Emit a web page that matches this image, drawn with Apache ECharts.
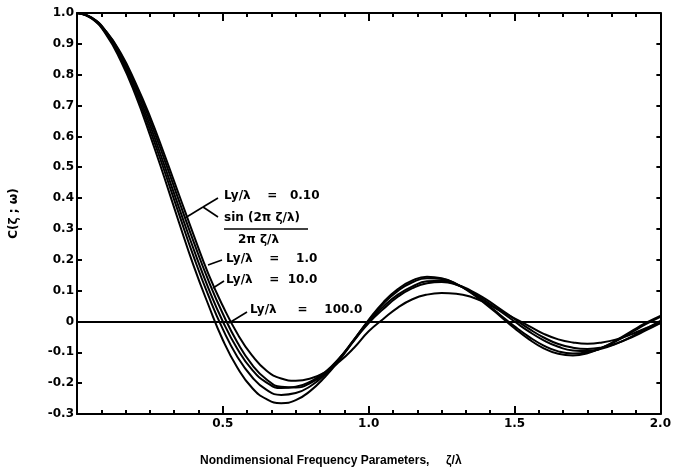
<!DOCTYPE html>
<html>
<head>
<meta charset="utf-8">
<script src="https://cdn.jsdelivr.net/npm/echarts@6/dist/echarts.min.js"></script>
<style>
  html, body { margin: 0; padding: 0; background: #fff; }
  #main { width: 674px; height: 475px; }
</style>
</head>
<body>
<div id="main"></div>
<script>
var xs = [0, 0.05, 0.1, 0.15, 0.2, 0.25, 0.3, 0.35, 0.4, 0.45,
          0.5, 0.55, 0.6, 0.65, 0.7, 0.75, 0.8, 0.85, 0.9, 0.95,
          1.0, 1.05, 1.1, 1.15, 1.2, 1.25, 1.3, 1.35, 1.4, 1.45,
          1.5, 1.55, 1.6, 1.65, 1.7, 1.75, 1.8, 1.85, 1.9, 1.95, 2.0];

// Ly/lambda = 0.10
var ly010 = [1, 0.985, 0.94, 0.866, 0.768, 0.652, 0.524, 0.39, 0.258, 0.134,
             0.025, -0.068, -0.14, -0.188, -0.212, -0.214, -0.2, -0.168, -0.12, -0.062,
             -0.005, 0.04, 0.08, 0.108, 0.124, 0.128, 0.12, 0.1, 0.073, 0.041,
             0.008, -0.024, -0.052, -0.073, -0.085, -0.089, -0.084, -0.071, -0.052, -0.029, -0.005];
// sin(2 pi z/l) / (2 pi z/l)
var sinc = [1, 0.984, 0.936, 0.858, 0.757, 0.637, 0.505, 0.368, 0.234, 0.109,
            0, -0.089, -0.156, -0.198, -0.216, -0.212, -0.195, -0.165, -0.118, -0.06,
            0, 0.048, 0.087, 0.114, 0.13, 0.132, 0.12, 0.097, 0.067, 0.034,
            0, -0.033, -0.061, -0.082, -0.094, -0.096, -0.088, -0.072, -0.05, -0.024, 0.002];
// Ly/lambda = 1.0
var ly1 = [1, 0.983, 0.933, 0.852, 0.746, 0.622, 0.487, 0.347, 0.21, 0.085,
           -0.025, -0.115, -0.18, -0.222, -0.238, -0.232, -0.21, -0.172, -0.12, -0.058,
           0.003, 0.057, 0.099, 0.127, 0.14, 0.138, 0.122, 0.095, 0.06, 0.022,
           -0.016, -0.05, -0.078, -0.097, -0.104, -0.1, -0.085, -0.063, -0.036, -0.009, 0.015];
// Ly/lambda = 10.0
var ly10 = [1, 0.982, 0.93, 0.845, 0.735, 0.605, 0.465, 0.32, 0.18, 0.055,
            -0.06, -0.15, -0.215, -0.252, -0.265, -0.255, -0.225, -0.18, -0.125, -0.06,
            0.005, 0.062, 0.105, 0.133, 0.145, 0.14, 0.122, 0.093, 0.057, 0.018,
            -0.022, -0.058, -0.087, -0.105, -0.11, -0.103, -0.085, -0.06, -0.032, -0.005, 0.018];
// Ly/lambda = 100.0
var ly100 = [1, 0.985, 0.94, 0.87, 0.775, 0.665, 0.54, 0.41, 0.28, 0.155,
             0.05, -0.04, -0.11, -0.16, -0.185, -0.192, -0.185, -0.165, -0.13, -0.085,
             -0.032, 0.008, 0.045, 0.072, 0.087, 0.092, 0.09, 0.08, 0.06, 0.035,
             0.01, -0.015, -0.04, -0.058, -0.068, -0.072, -0.068, -0.058, -0.042, -0.022, -0.005];

var xTicks = [0.5, 1.0, 1.5, 2.0];

function pairs(ys) {
  return xs.map(function (x, i) { return [x, ys[i]]; });
}

var myChart = echarts.init(document.getElementById('main'));

var fontFam = 'DejaVu Sans';

function curve(name, ys) {
  return {
    name: name,
    type: 'line',
    smooth: true,
    symbol: 'none',
    data: pairs(ys),
    lineStyle: { color: '#000', width: 2 },
    z: 3
  };
}

var series = [
  curve('Ly/λ = 0.10', ly010),
  curve('sinc', sinc),
  curve('Ly/λ = 1.0', ly1),
  curve('Ly/λ = 10.0', ly10),
  curve('Ly/λ = 100.0', ly100)
];
series[0].markLine = {
  silent: true,
  symbol: 'none',
  label: { show: false },
  lineStyle: { color: '#000', width: 2, type: 'solid' },
  data: [{ yAxis: 0 }]
};

function axisLine() {
  return { show: true, onZero: false, lineStyle: { color: '#000', width: 2 } };
}

function txt(x, y, s) {
  return { type: 'text', left: x, top: y - 7, z: 10,
           style: { text: s, fill: '#000', font: 'bold 12px "DejaVu Sans"' } };
}
function seg(x1, y1, x2, y2) {
  return { type: 'line', shape: { x1: x1, y1: y1, x2: x2, y2: y2 },
           style: { stroke: '#000', lineWidth: 1.6 }, z: 10 };
}

option = {
  animation: false,
  backgroundColor: '#fff',
  grid: { left: 77, right: 12, top: 13, bottom: 61 },
  xAxis: [
    {
      type: 'value',
      min: 0, max: 2, interval: 0.5,
      axisLine: axisLine(),
      axisTick: { show: true, inside: true, length: 8, lineStyle: { color: '#000', width: 2 } },
      minorTick: { show: true, splitNumber: 6, length: 4, lineStyle: { color: '#000', width: 2 } },
      splitLine: { show: false },
      axisLabel: {
        color: '#000', fontFamily: fontFam, fontWeight: 'bold', fontSize: 12, margin: 4,
        formatter: function (v) { return xTicks.indexOf(v) >= 0 ? v.toFixed(1) : ''; }
      }
    },
    {
      type: 'value', position: 'top',
      min: 0, max: 2, interval: 0.5,
      axisLine: axisLine(),
      axisTick: { show: true, inside: true, length: 8, lineStyle: { color: '#000', width: 2 } },
      minorTick: { show: true, splitNumber: 6, length: 4, lineStyle: { color: '#000', width: 2 } },
      splitLine: { show: false },
      axisLabel: { show: false }
    }
  ],
  yAxis: [
    {
      type: 'value',
      min: -0.3, max: 1.0, interval: 0.1,
      axisLine: axisLine(),
      axisTick: { show: true, inside: true, length: 5, lineStyle: { color: '#000', width: 2 } },
      splitLine: { show: false },
      axisLabel: {
        color: '#000', fontFamily: fontFam, fontWeight: 'bold', fontSize: 12, margin: 3,
        formatter: function (v) {
          var r = Math.round(v * 10) / 10;
          if (r === 0) return '0';
          return r.toFixed(1);
        }
      },
      name: 'C(ζ ; ω)',
      nameLocation: 'middle',
      nameGap: 57,
      nameTextStyle: { color: '#000', fontFamily: fontFam, fontWeight: 'bold', fontSize: 12 }
    },
    {
      type: 'value', position: 'right',
      min: -0.3, max: 1.0, interval: 0.1,
      axisLine: axisLine(),
      axisTick: { show: true, inside: true, length: 4, lineStyle: { color: '#000', width: 2 } },
      splitLine: { show: false },
      axisLabel: { show: false }
    }
  ],
  graphic: [
    txt(224, 197, 'Ly/λ    =   0.10'),
    txt(224, 219, 'sin (2π ζ/λ)'),
    seg(224, 229, 308, 229),
    txt(238, 241, '2π ζ/λ'),
    txt(226, 260, 'Ly/λ    =    1.0'),
    txt(226, 281, 'Ly/λ    =  10.0'),
    txt(250, 311, 'Ly/λ     =    100.0'),
    seg(185, 218, 203, 207),
    seg(203, 207, 218, 198),
    seg(203, 207, 218, 217),
    seg(208, 265, 222, 260),
    seg(213, 288, 224, 281),
    seg(229, 323, 247, 312),
    {
      type: 'text', left: 200, top: 455, z: 10,
      style: { text: 'Nondimensional Frequency Parameters,     ζ/λ', fill: '#000',
               font: 'bold 12px "Liberation Sans"' }
    }
  ],
  series: series
};

myChart.setOption(option);
</script>
</body>
</html>
